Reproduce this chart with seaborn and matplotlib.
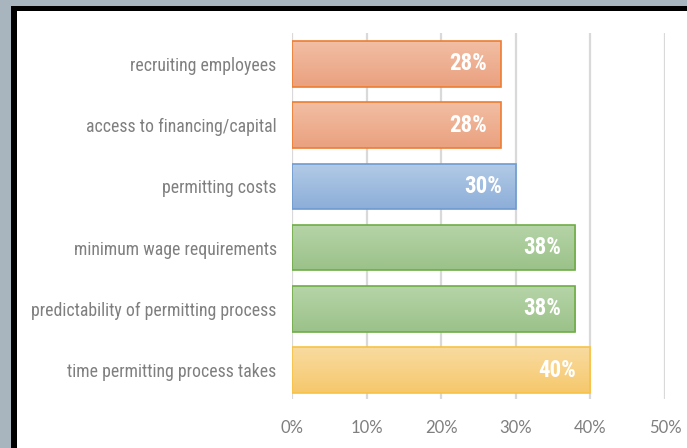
import matplotlib
matplotlib.use("Agg")
import matplotlib.pyplot as plt
import matplotlib.patches as mpatches
from matplotlib.colors import LinearSegmentedColormap
from matplotlib import font_manager
import numpy as np
import pandas as pd
import seaborn as sns

categories = [
    "recruiting employees",
    "access to financing/capital",
    "permitting costs",
    "minimum wage requirements",
    "predictability of permitting process",
    "time permitting process takes",
]
values = [0.28, 0.28, 0.30, 0.38, 0.38, 0.40]
x_ticks = [0.0, 0.1, 0.2, 0.3, 0.4, 0.5]
x_tick_labels = ["0%", "10%", "20%", "30%", "40%", "50%"]

# (top shade, bottom shade, outline) for each bar
bar_styles = [
    ("#f2bea4", "#eaa17f", "#ed7d31"),
    ("#f2bea4", "#eaa17f", "#ed7d31"),
    ("#b2cbe6", "#8daed9", "#6f9bd0"),
    ("#b6d4a8", "#9bc289", "#70ad47"),
    ("#b6d4a8", "#9bc289", "#70ad47"),
    ("#f9dba0", "#f6c86c", "#f7c245"),
]

sns.set_theme(style="white")

def pick(names):
    avail = {f.name for f in font_manager.fontManager.ttflist}
    for n in names:
        if n in avail:
            return n
    return "DejaVu Sans"

narrow = pick(["Liberation Sans Narrow", "Roboto Condensed", "Roboto"])
tick_font = pick(["Lato", "Open Sans", "Liberation Sans"])
plt.rcParams["font.family"] = [narrow, "DejaVu Sans"]

W, H = 687, 448
fig = plt.figure(figsize=(W / 100, H / 100), dpi=100, facecolor="#a8b5bf")

# dark frame and white panel
fig.patches.append(mpatches.Rectangle((11 / W, 0), 1, (H - 6) / H, transform=fig.transFigure,
                                      facecolor="black", edgecolor="none", zorder=-2))
fig.patches.append(mpatches.Rectangle((17 / W, 0), 1, (H - 11) / H, transform=fig.transFigure,
                                      facecolor="white", edgecolor="none", zorder=-1))

ax = fig.add_axes([292 / W, (H - 399) / H, (665 - 292) / W, (399 - 33) / H])
ax.set_facecolor("none")
ax.set_zorder(1)

df = pd.DataFrame({"category": categories, "value": values})
sns.barplot(data=df, x="value", y="category", orient="h", width=0.745,
            color="white", ax=ax, zorder=3)

ax.set_xlim(0, 0.5)
ax.set_ylim(5.47, -0.503)
ax.set_xticks(x_ticks)
ax.set_xticklabels(x_tick_labels, fontfamily=tick_font, fontsize=12, color="#7f7f7f")
ax.tick_params(axis="x", length=0, pad=15)
ax.tick_params(axis="y", length=0, pad=11, labelsize=12.8, labelcolor="#7f7f7f")
ax.set_xlabel("")
ax.set_ylabel("")
for s in ax.spines.values():
    s.set_visible(False)
ax.xaxis.grid(True, color="#d9d9d9", linewidth=1.6, zorder=0)
ax.set_axisbelow(True)

# gradient fills clipped to each bar, plus outlines
for patch, (top, bottom, edge), v in zip(ax.patches, bar_styles, values):
    x0, y0 = patch.get_x(), patch.get_y()
    w, h = patch.get_width(), patch.get_height()
    cmap = LinearSegmentedColormap.from_list("g", [top, bottom])
    grad = np.linspace(0, 1, 64).reshape(-1, 1)
    im = ax.imshow(grad, cmap=cmap, aspect="auto", extent=(x0, x0 + w, y0 + h, y0),
                   origin="upper", zorder=3, interpolation="bilinear")
    im.set_clip_path(patch)
    patch.set_facecolor("none")
    patch.set_edgecolor(edge)
    patch.set_linewidth(1.2)
    patch.set_zorder(4)
    ax.text(x0 + w - 0.019, y0 + h / 2, f"{round(v * 100)}%", ha="right", va="center",
            color="white", fontsize=16.5, fontweight="bold", zorder=5)

ax.set_xlim(0, 0.5)
ax.set_ylim(5.47, -0.503)

fig.savefig("out.png", dpi=100, facecolor=fig.get_facecolor())
